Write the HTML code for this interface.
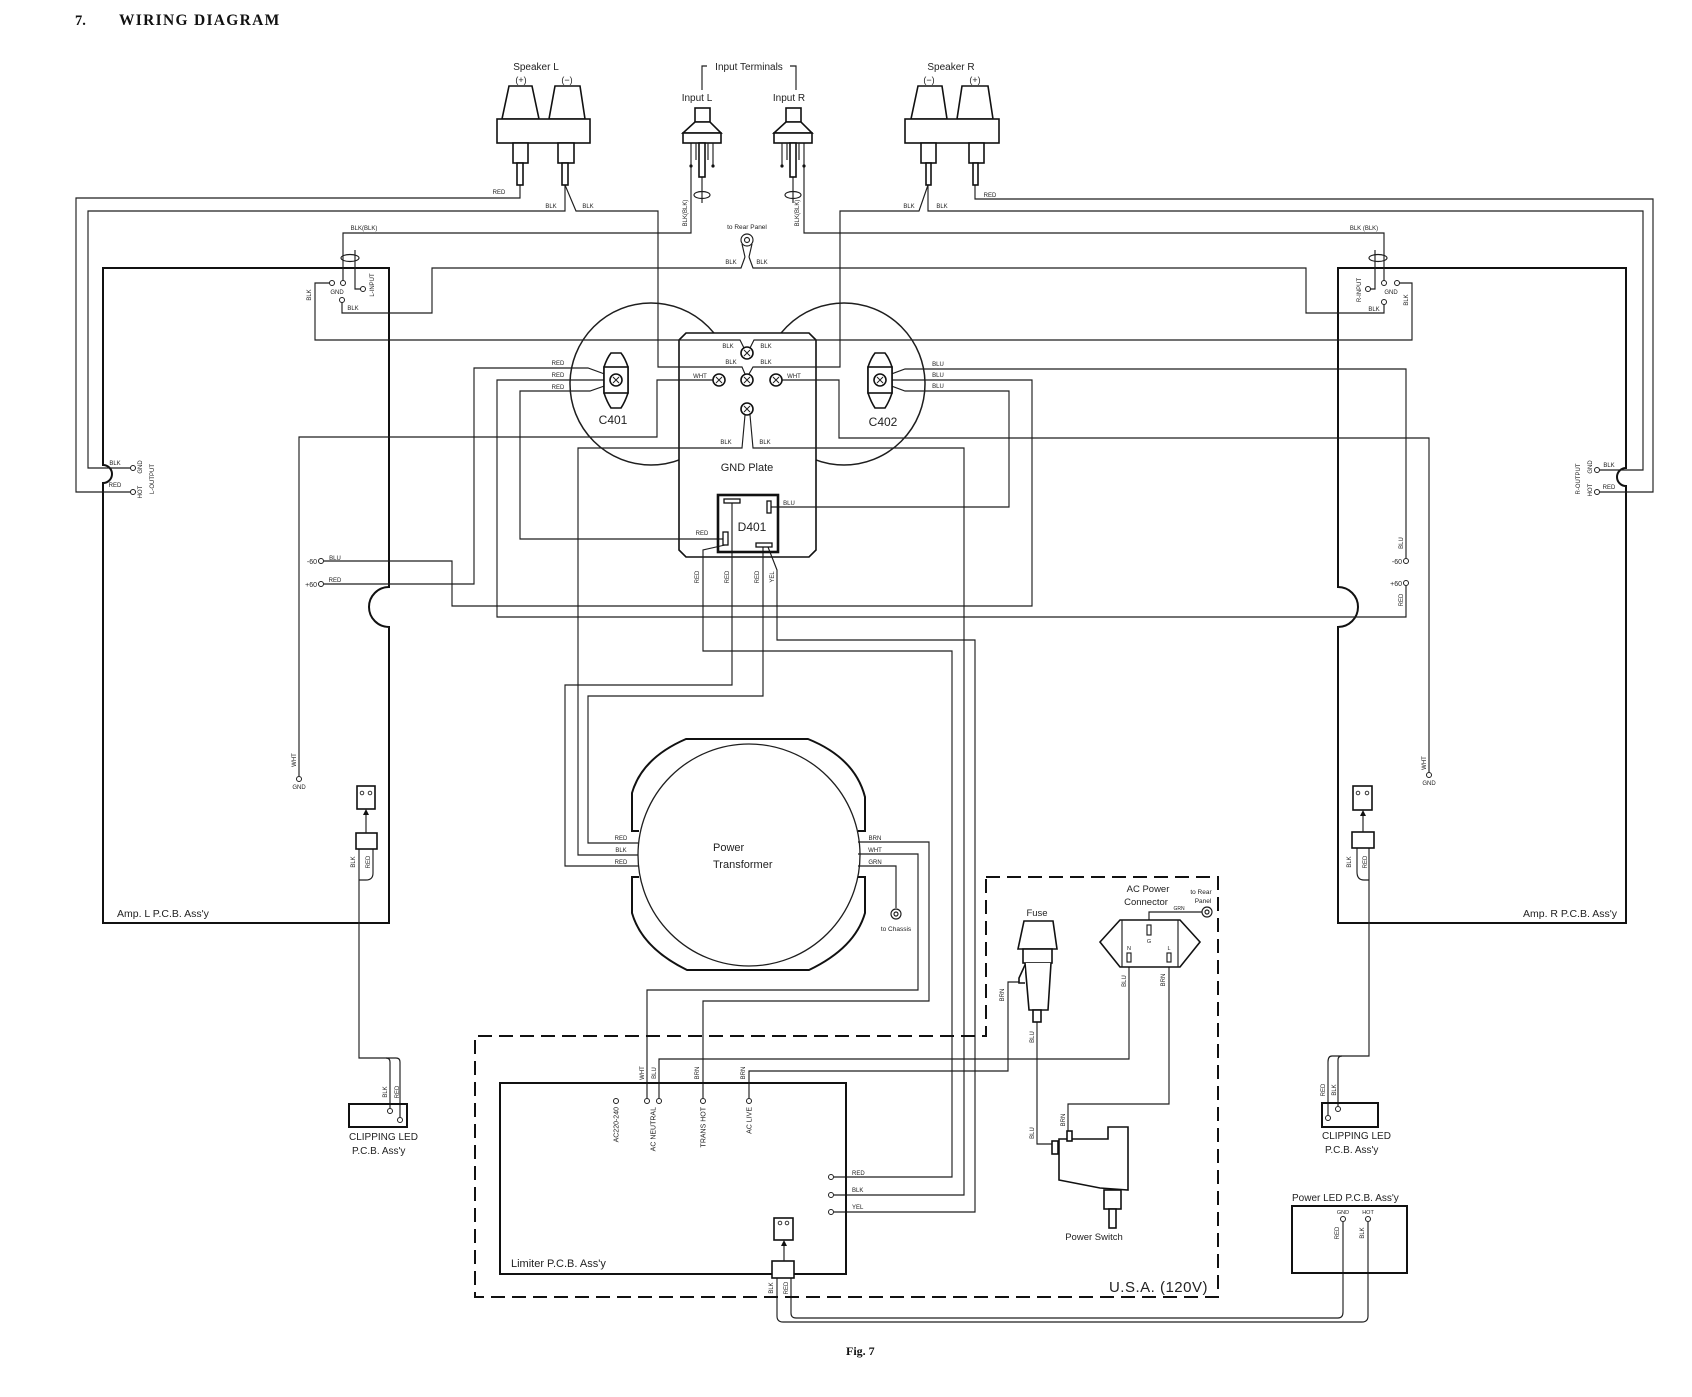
<!DOCTYPE html>
<html><head><meta charset="utf-8"><style>
html,body{margin:0;padding:0;background:#fff}
svg{display:block}
.w{fill:none;stroke:#1e1e1e;stroke-width:1.15}
.b{fill:none;stroke:#111;stroke-width:2}
.c{fill:none;stroke:#1e1e1e;stroke-width:1.5}
.f{fill:#fff;stroke:#111;stroke-width:1.6}
text{font-family:"Liberation Sans",sans-serif;fill:#222}
.s{font-size:6px}
.t{font-size:7px}
.m{font-size:10px}
.l{font-size:12px}
.mid{text-anchor:middle}
.end{text-anchor:end}
.ser{font-family:"Liberation Serif",serif;font-weight:bold;fill:#111}
</style></head><body>
<svg width="1692" height="1397" viewBox="0 0 1692 1397" xmlns="http://www.w3.org/2000/svg">
<rect width="1692" height="1397" fill="#fff"/>

<!-- Title -->
<text class="ser" x="75" y="25" font-size="14.5">7.</text>
<text class="ser" x="119" y="25" font-size="15.5" letter-spacing="1.3">WIRING DIAGRAM</text>
<text class="ser" x="846" y="1355" font-size="12">Fig. 7</text>

<!-- Capacitor circles -->
<circle class="c" cx="651" cy="384" r="81"/>
<circle class="c" cx="844" cy="384" r="81"/>
<!-- GND plate -->
<path class="f" d="M686,333 L809,333 L816,340 L816,550 L809,557 L686,557 L679,550 L679,340 Z"/>

<!-- Amp boards -->
<path class="b" d="M103,268 L389,268 L389,587 A20,20 0 0 0 389,627 L389,923 L103,923 L103,483 A9,9 0 0 0 103,465 Z"/>
<path class="b" d="M1338,268 L1626,268 L1626,468 A9,9 0 0 0 1626,486 L1626,923 L1338,923 L1338,627 A20,20 0 0 0 1338,587 Z"/>

<!-- Wires -->
<g class="w">
<path d="M520,185 L520,198 L76,198 L76,492 L131,492"/>
<path d="M565,185 L565,211 L88,211 L88,468 L131,468"/>
<path d="M565,185 L576,211 L658,211 L658,367 L742,367 L745,374"/>
<path d="M928,185 L919,211 L840,211 L840,367 L753,367 L749,374"/>
<path d="M928,185 L928,211 L1643,211 L1643,470 L1599,470"/>
<path d="M975,185 L975,199 L1653,199 L1653,492 L1599,492"/>
<path d="M691,143 L691,233 L343,233 L343,281"/>
<path d="M702,177 L702,203"/>
<path d="M355,250 L355,289 L361,289"/>
<path d="M804,143 L804,233 L1384,233 L1384,281"/>
<path d="M793,177 L793,203"/>
<path d="M1375,250 L1375,289 L1370,289"/>
<path d="M745,257 L741,268 L432,268 L432,313 L342,313 L342,302"/>
<path d="M749,257 L753,268 L1306,268 L1306,313 L1384,313 L1384,304"/>
<path d="M330,283 L315,283 L315,340 L740,340 L744,348"/>
<path d="M1399,283 L1412,283 L1412,340 L754,340 L750,348"/>
<path d="M713,380 L657,380 L657,437 L299,437 L299,776"/>
<path d="M782,380 L839,380 L839,438 L1429,438 L1429,772"/>
<path d="M745,415 L742,448 L578,448 L578,855 L638,855"/>
<path d="M750,415 L753,448 L964,448 L964,1195 L834,1195"/>
<path d="M610,376 L588,368 L474,368 L474,584 L324,584"/>
<path d="M610,380 L497,380 L497,617 L1406,617 L1406,586"/>
<path d="M610,384 L590,391 L520,391 L520,539 L723,539"/>
<path d="M886,376 L905,369 L1406,369 L1406,558"/>
<path d="M886,380 L1032,380 L1032,606 L452,606 L452,561 L324,561"/>
<path d="M886,384 L905,391 L1009,391 L1009,507 L771,507"/>
<path d="M732,503 L732,685 L565,685 L565,866 L638,866"/>
<path d="M725,545 L703,550 L703,651 L952,651 L952,1177 L834,1177"/>
<path d="M763,547 L763,696 L588,696 L588,843 L638,843"/>
<path d="M768,547 L777,570 L777,640 L975,640 L975,1212 L834,1212"/>
<path d="M858,842 L929,842 L929,1001 L703,1001 L703,1098"/>
<path d="M858,854 L918,854 L918,990 L647,990 L647,1098"/>
<path d="M858,866 L896,866 L896,908"/>
<path d="M659,1098 L659,1059 L1129,1059 L1129,962"/>
<path d="M749,1098 L749,1071 L1008,1071 L1008,982 L1019,982"/>
<path d="M1037,1022 L1037,1144 L1052,1144"/>
<path d="M1169,962 L1169,1104 L1068,1104 L1068,1131"/>
<path d="M1149,925 L1149,912 L1202,912"/>
<!-- clipping L -->
<path d="M359,849 L359,1058 L386,1058 Q390,1058 390,1062 L390,1108"/>
<path d="M386,1058 L396,1058 Q400,1058 400,1062 L400,1117"/>
<path d="M373,849 L373,873 Q373,880 366,880 L359,880"/>
<!-- clipping R -->
<path d="M1369,848 L1369,1056 L1342,1056 Q1338,1056 1338,1060 L1338,1106"/>
<path d="M1342,1056 L1332,1056 Q1328,1056 1328,1062 L1328,1115"/>
<path d="M1357,848 L1357,872 Q1357,880 1364,880 L1369,880"/>
<!-- limiter to power LED -->
<path d="M777,1278 L777,1316 Q777,1322 783,1322 L1362,1322 Q1368,1322 1368,1316 L1368,1222"/>
<path d="M791,1278 L791,1313 Q791,1318 796,1318 L1338,1318 Q1343,1318 1343,1312 L1343,1222"/>
</g>

<!-- shield ellipses -->
<g class="w">
<ellipse cx="702" cy="195" rx="8" ry="3.5"/>
<ellipse cx="793" cy="195" rx="8" ry="3.5"/>
<ellipse cx="350" cy="258" rx="9" ry="3.5"/>
<ellipse cx="1378" cy="258" rx="9" ry="3.5"/>
</g>

<!-- Terminal circles -->
<g fill="#fff" stroke="#1e1e1e" stroke-width="1">
<circle cx="133" cy="468" r="2.5"/><circle cx="133" cy="492" r="2.5"/>
<circle cx="1597" cy="470" r="2.5"/><circle cx="1597" cy="492" r="2.5"/>
<circle cx="332" cy="283" r="2.5"/><circle cx="343" cy="283" r="2.5"/><circle cx="363" cy="289" r="2.5"/><circle cx="342" cy="300" r="2.5"/>
<circle cx="1368" cy="289" r="2.5"/><circle cx="1384" cy="283" r="2.5"/><circle cx="1397" cy="283" r="2.5"/><circle cx="1384" cy="302" r="2.5"/>
<circle cx="321" cy="561" r="2.5"/><circle cx="321" cy="584" r="2.5"/>
<circle cx="1406" cy="561" r="2.5"/><circle cx="1406" cy="583" r="2.5"/>
<circle cx="299" cy="779" r="2.5"/><circle cx="1429" cy="775" r="2.5"/>
<circle cx="616" cy="1101" r="2.5"/><circle cx="647" cy="1101" r="2.5"/><circle cx="659" cy="1101" r="2.5"/><circle cx="703" cy="1101" r="2.5"/><circle cx="749" cy="1101" r="2.5"/>
<circle cx="831" cy="1177" r="2.5"/><circle cx="831" cy="1195" r="2.5"/><circle cx="831" cy="1212" r="2.5"/>
<circle cx="390" cy="1111" r="2.5"/><circle cx="400" cy="1120" r="2.5"/>
<circle cx="1328" cy="1118" r="2.5"/><circle cx="1338" cy="1109" r="2.5"/>
<circle cx="1343" cy="1219" r="2.5"/><circle cx="1368" cy="1219" r="2.5"/>
</g>

<!-- Speaker L -->
<g class="f" stroke-width="1.5">
<path d="M509,86 L532,86 L539,119 L502,119 Z"/>
<path d="M555,86 L580,86 L585,119 L549,119 Z"/>
<rect x="497" y="119" width="93" height="24"/>
<rect x="513" y="143" width="15" height="20"/><rect x="517" y="163" width="6" height="22"/>
<rect x="558" y="143" width="16" height="20"/><rect x="562" y="163" width="6" height="22"/>
<!-- Speaker R -->
<path d="M918,86 L942,86 L947,119 L911,119 Z"/>
<path d="M962,86 L988,86 L993,119 L957,119 Z"/>
<rect x="905" y="119" width="94" height="24"/>
<rect x="921" y="143" width="15" height="20"/><rect x="926" y="163" width="5" height="22"/>
<rect x="969" y="143" width="15" height="20"/><rect x="973" y="163" width="5" height="22"/>
<!-- Input L -->
<rect x="695" y="108" width="15" height="14"/>
<path d="M695,122 L683,133 L721,133 L710,122 Z"/>
<rect x="683" y="133" width="38" height="10"/>
<rect x="699" y="143" width="6" height="34"/>
<!-- Input R -->
<rect x="786" y="108" width="15" height="14"/>
<path d="M786,122 L774,133 L812,133 L801,122 Z"/>
<rect x="774" y="133" width="38" height="10"/>
<rect x="790" y="143" width="6" height="34"/>
</g>
<g class="w">
<path d="M713,143 L713,166 M696,143 L696,160 M708,143 L708,160"/>
<path d="M782,143 L782,166 M787,143 L787,160 M799,143 L799,160"/>
<path d="M702,90 L702,66 L707,66 M790,66 L796,66 L796,90"/>
</g>
<circle cx="691" cy="166" r="1.6" fill="#111"/><circle cx="713" cy="166" r="1.6" fill="#111"/>
<circle cx="782" cy="166" r="1.6" fill="#111"/><circle cx="804" cy="166" r="1.6" fill="#111"/>

<!-- Rear panel lug -->
<g class="w">
<circle cx="747" cy="240" r="6"/><circle cx="747" cy="240" r="2.5"/>
<path d="M742,244 L745,257 M752,244 L749,257"/>
</g>

<!-- Capacitor terminals -->
<g class="f" stroke-width="1.3">
<path d="M611,353 L621,353 Q625,358 628,367 L628,393 Q625,402 621,408 L611,408 Q607,402 604,393 L604,367 Q607,358 611,353 Z"/>
<rect x="604" y="367" width="24" height="26"/>
<path d="M875,353 L885,353 Q889,358 892,367 L892,393 Q889,402 885,408 L875,408 Q871,402 868,393 L868,367 Q871,358 875,353 Z"/>
<rect x="868" y="367" width="24" height="26"/>
</g>

<!-- Screws -->
<g class="f" stroke-width="1.2">
<circle cx="616" cy="380" r="6"/><circle cx="880" cy="380" r="6"/>
<circle cx="747" cy="353" r="6"/><circle cx="719" cy="380" r="6"/><circle cx="747" cy="380" r="6"/><circle cx="776" cy="380" r="6"/><circle cx="747" cy="409" r="6"/>
</g>
<g stroke="#1e1e1e" stroke-width="1">
<path d="M613,377 l6,6 m0,-6 l-6,6"/>
<path d="M877,377 l6,6 m0,-6 l-6,6"/>
<path d="M744,350 l6,6 m0,-6 l-6,6"/>
<path d="M716,377 l6,6 m0,-6 l-6,6"/>
<path d="M744,377 l6,6 m0,-6 l-6,6"/>
<path d="M773,377 l6,6 m0,-6 l-6,6"/>
<path d="M744,406 l6,6 m0,-6 l-6,6"/>
</g>

<!-- D401 -->
<rect x="718" y="495" width="60" height="57" fill="none" stroke="#111" stroke-width="2.6"/>
<g fill="#fff" stroke="#111" stroke-width="1.3">
<rect x="724" y="499" width="16" height="4"/>
<rect x="767" y="501" width="4" height="12"/>
<rect x="723" y="532" width="5" height="13"/>
<rect x="756" y="543" width="16" height="4"/>
</g>

<!-- Transformer -->
<path class="b" d="M639,831 L632,831 L632,793 Q642,758 686,739 L808,739 Q855,758 865,797 L865,831 L858,831"/>
<path class="b" d="M639,877 L632,877 L632,913 Q642,948 687,970 L809,970 Q855,948 865,913 L865,877 L858,877"/>
<circle cx="749" cy="855" r="111" fill="none" stroke="#1e1e1e" stroke-width="1.3"/>
<g class="w"><circle cx="896" cy="914" r="5"/><circle cx="896" cy="914" r="2"/></g>

<!-- Dashed box -->
<path d="M986,877 L1218,877 L1218,1297 L475,1297 L475,1036 L986,1036 Z" fill="none" stroke="#111" stroke-width="2" stroke-dasharray="14 7"/>

<!-- Limiter board -->
<rect class="b" x="500" y="1083" width="346" height="191"/>
<g class="f" stroke-width="1.6">
<rect x="774" y="1218" width="19" height="22"/>
<rect x="772" y="1261" width="22" height="17"/>
<rect x="357" y="786" width="18" height="23"/>
<rect x="356" y="833" width="21" height="16"/>
<rect x="1353" y="786" width="19" height="24"/>
<rect x="1352" y="832" width="22" height="16"/>
</g>
<g fill="none" stroke="#222" stroke-width="0.9">
<circle cx="780" cy="1223" r="1.8"/><circle cx="787" cy="1223" r="1.8"/>
<circle cx="362" cy="793" r="1.8"/><circle cx="370" cy="793" r="1.8"/>
<circle cx="1358" cy="793" r="1.8"/><circle cx="1367" cy="793" r="1.8"/>
</g>
<g class="w"><path d="M784,1261 L784,1244 M366,833 L366,813 M1363,832 L1363,814"/></g>
<g fill="#111">
<path d="M781,1246 L787,1246 L784,1240 Z"/>
<path d="M363,815 L369,815 L366,809 Z"/>
<path d="M1360,816 L1366,816 L1363,810 Z"/>
</g>

<!-- Fuse -->
<g class="f" stroke-width="1.5">
<path d="M1024,921 L1053,921 L1057,949 L1018,949 Z"/>
<rect x="1023" y="949" width="29" height="14"/>
<path d="M1025,963 L1029,1010 L1048,1010 L1051,963"/>
<rect x="1033" y="1010" width="8" height="12"/>
<path d="M1025,965 L1019,978 L1019,983 L1025,983"/>
</g>

<!-- AC connector -->
<g class="f" stroke-width="1.6">
<path d="M1100,942 L1120,920 L1180,920 L1200,942 L1180,967 L1120,967 Z"/>
</g>
<g class="w">
<path d="M1122,920 L1122,967 M1178,920 L1178,967"/>
<rect x="1147" y="925" width="4" height="10"/>
<rect x="1127" y="953" width="4" height="9"/>
<rect x="1167" y="953" width="4" height="9"/>
<circle cx="1207" cy="912" r="5"/><circle cx="1207" cy="912" r="2"/>
</g>

<!-- Power switch -->
<g class="f" stroke-width="1.6">
<path d="M1059,1139 L1108,1139 L1108,1127 L1128,1127 L1128,1190 L1100,1188 L1059,1180 Z"/>
<rect x="1104" y="1190" width="17" height="19"/>
<rect x="1109" y="1209" width="7" height="19"/>
<rect x="1052" y="1141" width="6" height="13"/>
<rect x="1067" y="1131" width="5" height="10"/>
</g>

<!-- Clipping LED boards & Power LED -->
<rect class="b" x="349" y="1104" width="58" height="23"/>
<rect class="b" x="1322" y="1103" width="56" height="24"/>
<rect class="b" x="1292" y="1206" width="115" height="67"/>

<!-- ===== Labels ===== -->
<g class="m">
<text x="536" y="70" class="mid">Speaker L</text>
<text x="521" y="83" class="mid" font-size="9">(+)</text>
<text x="567" y="83" class="mid" font-size="9">(−)</text>
<text x="749" y="70" class="mid">Input Terminals</text>
<text x="697" y="101" class="mid">Input L</text>
<text x="789" y="101" class="mid">Input R</text>
<text x="951" y="70" class="mid">Speaker R</text>
<text x="929" y="83" class="mid" font-size="9">(−)</text>
<text x="975" y="83" class="mid" font-size="9">(+)</text>
<text x="117" y="917" font-size="10.5">Amp. L P.C.B. Ass'y</text>
<text x="1617" y="917" class="end" font-size="10.5">Amp. R P.C.B. Ass'y</text>
<text x="1037" y="916" class="mid" font-size="9.5">Fuse</text>
<text x="1148" y="892" class="mid" font-size="9.5">AC Power</text>
<text x="1146" y="905" class="mid" font-size="9.5">Connector</text>
<text x="1094" y="1240" class="mid" font-size="9.5">Power Switch</text>
<text x="1292" y="1201" font-size="10">Power LED P.C.B. Ass'y</text>
<text x="349" y="1140" font-size="10">CLIPPING LED</text>
<text x="352" y="1154" font-size="10">P.C.B. Ass'y</text>
<text x="1322" y="1139" font-size="10">CLIPPING LED</text>
<text x="1325" y="1153" font-size="10">P.C.B. Ass'y</text>
<text x="511" y="1267" font-size="11">Limiter P.C.B. Ass'y</text>
</g>
<text x="1208" y="1292" class="end" font-size="15" letter-spacing="0.5">U.S.A. (120V)</text>
<g class="l">
<text x="613" y="424" class="mid">C401</text>
<text x="883" y="426" class="mid">C402</text>
<text x="747" y="471" class="mid" font-size="11">GND Plate</text>
<text x="752" y="531" class="mid">D401</text>
<text x="713" y="851" font-size="11">Power</text>
<text x="713" y="868" font-size="11">Transformer</text>
</g>
<g class="t">
<text x="747" y="229" class="mid" font-size="6.5">to Rear Panel</text>
<text x="896" y="931" class="mid" font-size="6.5">to Chassis</text>
<text x="1201" y="894" class="mid" font-size="6.5">to Rear</text>
<text x="1203" y="903" class="mid" font-size="6.5">Panel</text>
<text x="317" y="564" class="end">-60</text>
<text x="317" y="587" class="end">+60</text>
<text x="1402" y="564" class="end">-60</text>
<text x="1402" y="586" class="end">+60</text>
<text x="299" y="789" class="mid" font-size="6">GND</text>
<text x="1429" y="785" class="mid" font-size="6">GND</text>
</g>
<g class="s">
<text x="499" y="194" class="mid">RED</text>
<text x="551" y="208" class="mid">BLK</text>
<text x="588" y="208" class="mid">BLK</text>
<text x="909" y="208" class="mid">BLK</text>
<text x="942" y="208" class="mid">BLK</text>
<text x="990" y="197" class="mid">RED</text>
<text x="731" y="264" class="mid">BLK</text>
<text x="762" y="264" class="mid">BLK</text>
<text x="364" y="230" class="mid">BLK(BLK)</text>
<text x="1364" y="230" class="mid">BLK (BLK)</text>
<text x="337" y="294" class="mid">GND</text>
<text x="353" y="310" class="mid">BLK</text>
<text x="1391" y="294" class="mid">GND</text>
<text x="1374" y="311" class="mid">BLK</text>
<text x="115" y="465" class="mid">BLK</text>
<text x="115" y="487" class="mid">RED</text>
<text x="1609" y="467" class="mid">BLK</text>
<text x="1609" y="489" class="mid">RED</text>
<text x="558" y="365" class="mid">RED</text>
<text x="558" y="377" class="mid">RED</text>
<text x="558" y="389" class="mid">RED</text>
<text x="938" y="366" class="mid">BLU</text>
<text x="938" y="377" class="mid">BLU</text>
<text x="938" y="388" class="mid">BLU</text>
<text x="728" y="348" class="mid">BLK</text>
<text x="766" y="348" class="mid">BLK</text>
<text x="731" y="364" class="mid">BLK</text>
<text x="766" y="364" class="mid">BLK</text>
<text x="700" y="378" class="mid">WHT</text>
<text x="794" y="378" class="mid">WHT</text>
<text x="726" y="444" class="mid">BLK</text>
<text x="765" y="444" class="mid">BLK</text>
<text x="789" y="505" class="mid">BLU</text>
<text x="702" y="535" class="mid">RED</text>
<text x="335" y="560" class="mid">BLU</text>
<text x="335" y="582" class="mid">RED</text>
<text x="621" y="840" class="mid">RED</text>
<text x="621" y="852" class="mid">BLK</text>
<text x="621" y="864" class="mid">RED</text>
<text x="875" y="840" class="mid">BRN</text>
<text x="875" y="852" class="mid">WHT</text>
<text x="875" y="864" class="mid">GRN</text>
<text x="852" y="1175">RED</text>
<text x="852" y="1192">BLK</text>
<text x="852" y="1209">YEL</text>
<text x="1179" y="910" class="mid" font-size="5">GRN</text>
<text x="1129" y="950" class="mid" font-size="5.5">N</text>
<text x="1149" y="943" class="mid" font-size="5.5">G</text>
<text x="1169" y="950" class="mid" font-size="5.5">L</text>
<text x="1343" y="1214" class="mid" font-size="5.5">GND</text>
<text x="1368" y="1214" class="mid" font-size="5.5">HOT</text>
</g>
<!-- rotated small labels -->
<g class="s" text-anchor="middle">
<text transform="translate(685,213) rotate(-90)" dy="2">BLK(BLK)</text>
<text transform="translate(797,213) rotate(-90)" dy="2">BLK(BLK)</text>
<text transform="translate(309,295) rotate(-90)" dy="2">BLK</text>
<text transform="translate(372,285) rotate(-90)" dy="2">L-INPUT</text>
<text transform="translate(1359,290) rotate(-90)" dy="2">R-INPUT</text>
<text transform="translate(1406,300) rotate(-90)" dy="2">BLK</text>
<text transform="translate(140,467) rotate(-90)" dy="2">GND</text>
<text transform="translate(140,492) rotate(-90)" dy="2">HOT</text>
<text transform="translate(152,479) rotate(-90)" dy="2">L-OUTPUT</text>
<text transform="translate(1590,467) rotate(-90)" dy="2">GND</text>
<text transform="translate(1590,490) rotate(-90)" dy="2">HOT</text>
<text transform="translate(1578,479) rotate(-90)" dy="2">R-OUTPUT</text>
<text transform="translate(697,577) rotate(-90)" dy="2">RED</text>
<text transform="translate(727,577) rotate(-90)" dy="2">RED</text>
<text transform="translate(757,577) rotate(-90)" dy="2">RED</text>
<text transform="translate(772,577) rotate(-90)" dy="2">YEL</text>
<text transform="translate(1401,543) rotate(-90)" dy="2">BLU</text>
<text transform="translate(1401,600) rotate(-90)" dy="2">RED</text>
<text transform="translate(294,760) rotate(-90)" dy="2">WHT</text>
<text transform="translate(1424,763) rotate(-90)" dy="2">WHT</text>
<text transform="translate(353,862) rotate(-90)" dy="2">BLK</text>
<text transform="translate(368,862) rotate(-90)" dy="2">RED</text>
<text transform="translate(1349,862) rotate(-90)" dy="2">BLK</text>
<text transform="translate(1365,862) rotate(-90)" dy="2">RED</text>
<text transform="translate(385,1092) rotate(-90)" dy="2">BLK</text>
<text transform="translate(397,1092) rotate(-90)" dy="2">RED</text>
<text transform="translate(1323,1090) rotate(-90)" dy="2">RED</text>
<text transform="translate(1334,1090) rotate(-90)" dy="2">BLK</text>
<text transform="translate(642,1073) rotate(-90)" dy="2">WHT</text>
<text transform="translate(654,1073) rotate(-90)" dy="2">BLU</text>
<text transform="translate(697,1073) rotate(-90)" dy="2">BRN</text>
<text transform="translate(743,1073) rotate(-90)" dy="2">BRN</text>
<text transform="translate(771,1288) rotate(-90)" dy="2">BLK</text>
<text transform="translate(786,1288) rotate(-90)" dy="2">RED</text>
<text transform="translate(1002,995) rotate(-90)" dy="2">BRN</text>
<text transform="translate(1032,1037) rotate(-90)" dy="2">BLU</text>
<text transform="translate(1032,1133) rotate(-90)" dy="2">BLU</text>
<text transform="translate(1124,981) rotate(-90)" dy="2">BLU</text>
<text transform="translate(1163,980) rotate(-90)" dy="2">BRN</text>
<text transform="translate(1063,1120) rotate(-90)" dy="2">BRN</text>
<text transform="translate(1337,1233) rotate(-90)" dy="2">RED</text>
<text transform="translate(1362,1233) rotate(-90)" dy="2">BLK</text>
</g>
<g class="t" font-size="6.5" text-anchor="end">
<text transform="translate(616,1107) rotate(-90)" dy="2.3">AC220-240</text>
<text transform="translate(653,1107) rotate(-90)" dy="2.3">AC NEUTRAL</text>
<text transform="translate(703,1107) rotate(-90)" dy="2.3">TRANS HOT</text>
<text transform="translate(749,1107) rotate(-90)" dy="2.3">AC LIVE</text>
</g>
</svg>
</body></html>
